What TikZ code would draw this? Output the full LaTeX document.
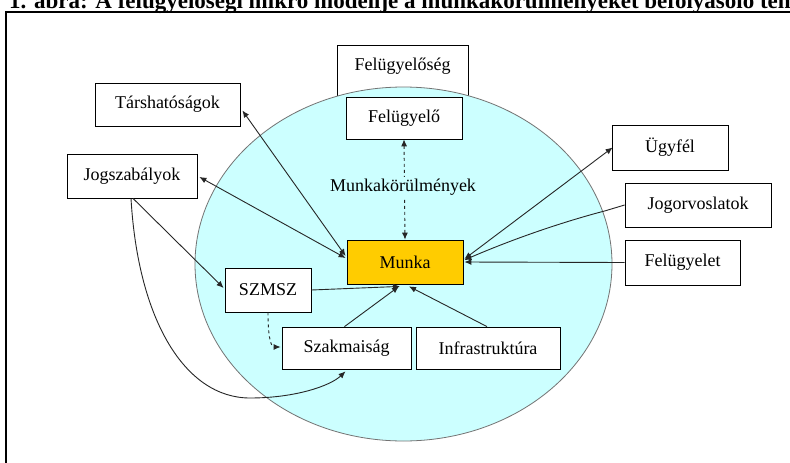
\documentclass[tikz,border=0pt]{standalone}
\usepackage{fontspec}
\setmainfont{Liberation Serif}
\usetikzlibrary{arrows.meta,calc,shapes.geometric}
\definecolor{circfill}{HTML}{CCFFFF}
\definecolor{munkafill}{HTML}{FFCC00}
\begin{document}
\begin{tikzpicture}[x=1pt,y=-1pt,
  box/.style={draw=black, fill=white, line width=0.8pt, inner sep=0pt,
    font=\fontsize{18}{20}\selectfont},
  plain/.style={inner sep=0pt, font=\fontsize{18}{20}\selectfont},
  conn/.style={draw=black!85, line width=0.9pt, -{Latex[length=7pt,width=6pt]}},
  both/.style={draw=black!85, line width=0.9pt, {Latex[length=7pt,width=6pt]}-{Latex[length=7pt,width=6pt]}},
]
\useasboundingbox (0,0) rectangle (790,463);
\clip (0,0) rectangle (790,463);
\fill[white] (0,0) rectangle (790,463);
% title (cut at the top, as in the reference)
\node[anchor=base west, inner sep=0pt, font=\fontsize{23}{25}\selectfont\bfseries] (title) at (9,9)
  {1. ábra: A felügyelőségi mikro modellje a munkakörülményeket befolyásoló tényezőkről};
% frame
\coordinate (frameBL) at (6,470);
\coordinate (frameTL) at (6,12);
\coordinate (frameTR) at (800,12);
\draw[line width=2.4pt] (frameBL) -- (frameTL) -- (frameTR);
% Felugyeloseg box (partly behind the circle)
\node[box, minimum width=131pt, minimum height=60pt] (fseg) at (402.5,75) {};
\node[plain] (fsegtext) at (402.5,66) {Felügyelőség};
% circle
\node[draw=black!55, fill=circfill, line width=0.8pt, ellipse, minimum width=417pt, minimum height=354pt, inner sep=0pt] (circ) at (403.5,264) {};
% boxes
\node[box, minimum width=116pt, minimum height=42pt] (felugyelo) at (404,118) {Felügyelő};
\node[box, fill=munkafill, minimum width=116pt, minimum height=44pt] (munka) at (405,262) {Munka};
\draw[both, dashed] (felugyelo.south) -- (munka.north);
\node[plain, fill=circfill, inner xsep=1pt, inner ysep=2pt] (mkor) at (403,187) {Munkakörülmények};
\node[box, minimum width=86pt, minimum height=44pt] (szmsz) at (268,290) {SZMSZ};
\node[box, minimum width=129pt, minimum height=42pt] (szakm) at (346.5,348) {Szakmaiság};
\node[box, minimum width=144pt, minimum height=42pt] (infra) at (488,348) {Infrastruktúra};
\node[box, minimum width=145pt, minimum height=43pt] (tars) at (167.5,104.5) {Társhatóságok};
\node[box, minimum width=130pt, minimum height=44pt] (jogsz) at (132,176) {Jogszabályok};
\node[box, minimum width=116pt, minimum height=45pt] (ugyfel) at (670,147.5) {Ügyfél};
\node[box, minimum width=146pt, minimum height=44pt] (jogorv) at (698,205) {Jogorvoslatok};
\node[box, minimum width=115pt, minimum height=45pt] (felugyelet) at (682.5,262.5) {Felügyelet};
% connectors
\draw[both] ($(tars.east)+(2,6)$) -- ($(munka.west)+(-1,-6)$);
\draw[both] ($(jogsz.east)+(2,1)$) -- ($(munka.west)+(-1,-4)$);
\draw[conn] ($(jogsz.south)+(1,0)$) -- ($(szmsz.west)+(-1,-2)$);
\draw[conn] ($(jogsz.south)+(-1,0)$) .. controls (138,320) and (185,398) .. (250,398)
   .. controls (295,398) and (330,386) .. ($(szakm.south)+(-1,2)$);
\draw[conn, dashed] (szmsz.south) .. controls (268,342) and (272,347) .. ($(szakm.west)+(-1,-1)$);
\draw[conn] (szmsz.east) -- ($(munka.south)+(-5,2)$);
\draw[conn] ($(szakm.north)+(-2,0)$) -- ($(munka.south)+(-6,2)$);
\draw[conn] ($(infra.north)+(-1,0)$) -- ($(munka.south)+(4,2)$);
\draw[both] ($(munka.east)+(1,-3)$) -- ($(ugyfel.west)+(1,0)$);
\draw[conn] (jogorv.west) -- ($(jogorv.west)+(-20,6)$) .. controls (570,220) and (520,236) .. ($(munka.east)+(1,-2)$);
\draw[conn] (felugyelet.west) -- ($(munka.east)+(1,0)$);
\end{tikzpicture}
\end{document}
